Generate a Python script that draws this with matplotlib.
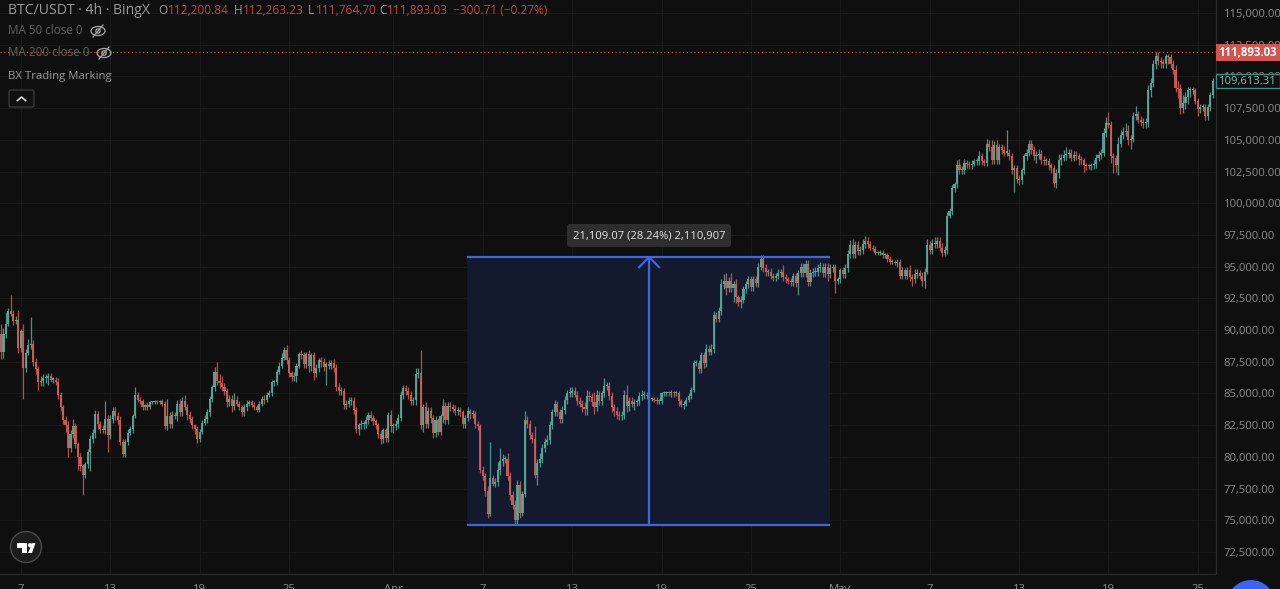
import matplotlib
matplotlib.use('Agg')
import matplotlib.pyplot as plt
from matplotlib.patches import Rectangle, Circle, Ellipse, FancyBboxPatch, Polygon

# closes in thousands of USDT, 4h candles
closes = [
    88.3,89.7,90.5,91.5,91.3,90.7,90.8,88.6,89.9,87.0,
    88.2,88.8,88.9,87.5,86.9,85.9,86.0,86.2,86.2,86.4,
    86.1,86.1,85.9,84.9,83.9,82.9,82.5,80.7,81.8,82.4,
    81.0,80.0,79.3,78.6,79.4,80.4,81.4,81.9,83.4,82.6,
    82.2,82.1,83.0,81.7,83.0,83.6,83.2,82.9,81.2,80.2,
    81.2,81.9,82.2,83.2,84.9,84.5,84.4,83.9,84.1,83.9,
    84.3,84.3,84.4,84.3,84.4,84.2,82.4,83.2,82.6,83.3,
    83.2,84.2,83.5,84.4,83.9,83.3,83.0,82.5,82.2,81.4,
    82.0,82.7,83.0,83.5,84.6,85.5,86.7,86.0,85.8,85.5,
    85.2,84.3,84.6,84.0,84.5,84.2,83.9,83.5,83.9,84.2,
    84.3,84.1,83.9,83.7,84.2,84.6,84.5,84.9,85.0,85.9,
    85.9,86.7,87.2,87.8,88.4,87.6,86.6,86.3,86.4,87.2,
    88.1,88.0,87.3,88.1,87.2,88.0,86.6,87.0,87.6,87.5,
    87.1,87.3,87.2,87.4,87.0,85.5,85.2,85.2,84.1,84.2,
    84.4,84.4,83.7,82.2,82.5,82.6,82.6,82.9,83.3,83.1,
    82.8,82.5,81.8,81.4,82.1,81.5,83.3,82.4,82.4,82.6,
    83.1,84.9,85.4,85.2,84.9,84.4,84.5,86.5,86.6,82.5,
    83.9,82.6,83.6,83.1,81.9,82.9,82.0,83.2,84.0,82.9,
    84.0,83.9,83.8,83.6,83.7,83.5,82.6,83.1,83.6,83.4,83.4,
    82.6,82.4,79.0,78.5,77.3,75.5,78.3,77.9,78.0,79.0,
    79.7,79.8,79.8,78.5,77.0,76.2,75.0,77.8,75.6,77.1,
    82.9,82.6,81.7,81.4,78.6,79.5,79.8,80.7,81.2,81.3,
    82.5,83.5,84.2,83.5,83.0,83.7,84.5,85.0,85.0,85.2,
    84.9,84.4,84.2,83.9,83.8,84.8,84.7,84.3,83.9,84.9,
    84.4,85.0,85.6,85.6,84.8,83.9,83.6,83.3,83.2,83.3,
    84.9,84.0,84.4,84.2,84.3,84.4,84.8,84.9,84.9,84.8,
    84.6,84.6,84.5,84.4,84.4,85.0,85.0,85.1,85.0,85.1,
    85.0,85.0,84.4,84.1,84.2,84.5,84.8,85.3,87.4,87.4,
    86.9,88.0,87.4,88.5,88.3,88.5,91.2,90.9,91.5,93.6,
    93.9,93.3,93.9,93.3,93.6,92.6,92.2,92.4,93.2,93.6,
    94.0,93.4,94.0,93.7,95.0,95.6,94.9,94.6,94.6,94.3,
    94.1,94.3,94.5,94.6,94.2,94.0,93.9,93.8,94.3,93.7,94.5,
    95.0,94.5,95.2,93.8,94.5,94.6,94.6,94.9,95.0,94.5,
    95.0,94.4,94.9,95.0,93.9,94.0,94.7,94.4,94.9,96.0,
    96.7,96.0,96.7,96.2,96.3,96.8,97.0,96.8,96.5,96.4,
    96.1,96.1,96.1,95.9,95.9,95.6,95.4,95.4,95.3,95.4,
    94.3,94.7,94.3,94.7,94.2,94.0,94.4,94.5,94.3,93.9,
    94.6,96.7,96.3,96.9,96.8,97.0,96.5,96.1,96.3,99.0,
    99.4,101.2,101.5,103.0,102.6,102.6,103.2,103.1,103.0,103.1,
    103.3,103.3,103.7,103.3,103.2,104.7,104.4,103.4,104.6,103.4,
    104.4,104.2,104.0,104.0,103.7,102.6,102.8,101.9,101.8,102.6,
    103.7,104.0,104.7,104.2,103.7,103.8,103.9,103.4,103.3,103.3,
    103.0,102.8,101.6,102.4,103.4,103.6,103.8,103.9,104.0,103.6,
    103.8,103.7,103.5,103.4,103.0,102.9,102.9,103.0,103.1,103.6,103.8,
    104.0,105.5,106.3,106.2,103.7,103.6,103.0,104.7,105.4,105.6,
    105.7,105.0,105.1,106.9,107.0,106.6,106.4,106.3,106.4,108.9,
    109.5,111.0,111.6,111.2,111.1,111.0,111.6,111.5,111.0,110.5,
    109.1,109.0,107.5,107.9,108.4,108.9,108.9,108.9,108.1,107.4,
    107.6,107.6,106.9,107.6,108.5,109.6,
]
first_open = 89.7

# wick lengths above/below the body, in hundreds of USDT
up_wick = [
    8,5,9,2,13,3,3,8,2,6, 3,5,21,3,3,3,4,3,3,2, 2,2,2,3,2,2,3,3,3,6,
    3,2,3,1,2,2,3,3,3,2, 2,3,14,3,3,3,3,3,3,2, 2,3,2,2,6,2,2,2,1,2,
    1,1,1,1,1,2,2,14,3,3, 2,3,4,3,5,3,3,2,1,2, 2,2,3,3,2,2,4,8,5,6,
    3,2,3,3,5,3,2,2,3,3, 2,2,2,2,2,2,3,2,3,2, 2,2,3,4,3,4,3,2,3,2,
    2,3,3,2,3,2,3,3,2,3, 3,2,3,2,3,3,3,3,2,3, 3,3,3,2,2,3,2,3,2,3,
    2,2,2,3,2,2,2,4,3,3, 3,3,3,3,3,3,2,5,4,18, 3,4,3,3,2,3,2,2,6,3,
    3,3,3,3,2,2,2,2,3,2,3, 2,2,2,3,2,4,29,3,3,6, 10,4,3,5,3,3,4,4,3,2,
    7,3,3,3,10,3,5,3,3,4, 3,3,3,2,3,3,3,3,5,3, 3,3,3,3,4,5,4,3,8,4,
    3,2,6,3,3,3,3,3,3,3, 4,8,3,3,3,2,3,4,3,2, 2,1,1,2,2,1,2,1,1,2,
    1,2,2,2,2,2,2,2,2,2, 2,3,3,4,3,4,3,2,3,4, 5,6,3,6,3,4,2,3,3,3,
    3,3,3,3,3,3,3,3,2,3, 2,2,3,2,5,2,2,2,2,2,2, 3,3,3,3,3,3,4,3,4,3,
    3,3,3,2,2,2,2,3,3,3, 4,5,3,3,3,4,4,3,2,2, 2,1,2,2,2,2,2,2,1,2,
    2,3,2,3,4,2,4,3,2,3, 3,5,3,3,4,3,3,4,3,3, 2,2,2,4,5,3,3,2,2,3,
    2,3,4,3,2,4,3,6,3,4, 3,3,3,18,3,3,2,2,3,2, 2,3,3,3,3,3,4,3,3,3,
    3,2,2,3,5,3,4,5,3,3, 3,3,3,2,2,2,2,2,3,3,3, 3,4,5,9,3,3,2,5,4,4,
    6,5,3,3,7,3,3,3,3,4, 4,3,3,3,3,3,2,2,3,3, 4,5,4,6,4,3,3,3,2,2,
    2,2,2,2,3,3,
]
down_wick = [
    6,5,3,2,2,3,2,4,3,24, 3,2,3,3,4,6,3,4,4,5, 2,3,2,3,3,3,5,7,3,3,
    3,10,4,16,3,3,15,3,4,4, 3,2,3,13,3,3,3,3,3,2, 2,3,2,3,1,2,2,2,2,2,
    1,1,1,1,1,2,2,3,3,3, 2,4,3,3,2,4,3,3,4,3, 2,2,2,3,3,3,3,3,4,3,
    3,4,3,5,3,2,2,3,3,3, 2,2,2,2,2,2,3,2,2,2, 3,2,2,2,2,3,3,3,3,5,
    2,3,3,3,5,4,5,3,3,4, 3,14,3,3,3,3,3,3,3,3, 3,3,3,3,5,3,4,3,3,3,
    3,3,3,4,3,3,3,4,5,3, 3,3,3,3,3,3,3,4,3,3, 5,3,3,4,4,3,3,3,5,3,
    3,3,3,3,3,3,3,3,3,4,3, 3,3,3,3,4,3,2,2,3,3, 4,4,3,3,4,3,4,3,4,3,
    3,3,3,3,3,8,3,3,3,3, 3,3,3,3,3,3,3,3,3,3, 2,3,3,4,5,5,3,3,5,3,
    3,3,3,3,3,4,4,3,3,3, 3,5,4,3,5,3,3,3,3,2, 2,2,2,2,2,2,2,2,2,3,
    3,2,4,2,3,2,2,2,2,2, 3,3,4,3,3,3,3,3,3,3, 4,5,3,3,11,5,3,5,3,3,
    3,3,3,3,3,3,3,3,3,3, 2,2,3,3,3,3,3,3,3,3,9, 3,3,3,3,3,3,3,3,3,3,
    3,5,3,3,10,3,3,3,3,3, 3,3,3,3,3,3,3,3,2,2, 2,2,2,2,2,2,2,2,2,3,
    3,3,3,3,3,5,3,3,3,4, 6,2,3,3,3,3,3,3,3,3, 2,3,3,3,3,3,3,3,3,3,
    2,3,3,3,3,3,3,3,3,3, 3,3,3,3,3,3,17,3,4,3, 3,3,3,3,3,5,3,3,3,3,
    4,4,3,4,4,4,3,4,3,3, 3,3,5,3,5,3,2,3,3,3,3, 3,3,3,3,5,12,5,8,3,3,
    3,4,7,3,3,3,3,4,4,4, 5,3,4,3,4,3,3,5,3,3, 3,7,5,4,5,6,5,3,3,5,
    3,3,3,3,3,2,
]

price_ticks = [72500, 75000, 77500, 80000, 82500, 85000, 87500, 90000, 92500, 95000,
               97500, 100000, 102500, 105000, 107500, 110000, 112500, 115000]
date_labels = ['7', '13', '19', '25', 'Apr', '7', '13', '19', '25', 'May', '7', '13', '19', '25']
# candle index of each date label (one day = 6 candles)
date_candles = [8, 44, 80, 116, 158, 194, 230, 266, 302, 338, 374, 410, 446, 482]

last_price = 111893.03
other_price = 109613.31
measure_low = 74650
measure_high = 95759
measure_start = 187.7
measure_end = 333.9
measure_mid = 261

BG = '#0f0f0f'
GRID = '#19191a'
UP = '#5aa898'
DOWN = '#cf5f5a'
BLUE = '#3f66e0'
plt.rcParams['font.family'] = ['Open Sans', 'DejaVu Sans']

fig = plt.figure(figsize=(12.8, 5.89), dpi=100, facecolor=BG)
ax = fig.add_axes([0, 15 / 589, 1215.5 / 1280, 574 / 589], facecolor=BG)

# Candles
opens = [first_open] + closes[:-1]
xs = list(range(len(closes)))
for x, o, c, uw, dw in zip(xs, opens, closes, up_wick, down_wick):
    color = UP if c >= o else DOWN
    top = max(o, c) * 1000
    bot = min(o, c) * 1000
    ax.vlines(x, bot - dw * 100, top + uw * 100, color=color, lw=0.9, alpha=0.85, zorder=3)
    ax.bar(x, max(top - bot, 80), bottom=bot, width=0.85, color=color, lw=0, alpha=0.92, zorder=3)

# Price range tool
ax.add_patch(Rectangle((measure_start, measure_low), measure_end - measure_start,
                       measure_high - measure_low, facecolor='#141a2e', edgecolor='none', zorder=1))
ax.hlines([measure_low, measure_high], measure_start, measure_end, color=BLUE, lw=1.6, zorder=4)
ax.vlines(measure_mid, measure_low, measure_high, color=BLUE, lw=1.6, zorder=4)
ax.plot([measure_mid - 4, measure_mid, measure_mid + 4],
        [measure_high - 800, measure_high, measure_high - 800], color=BLUE, lw=1.6, zorder=4)

ax.axhline(last_price, color='#b5524e', lw=0.9, ls=(0, (1, 2)), zorder=2)

ax.set_xlim(-0.4, 489.1)
ax.set_ylim(70764, 116025)
ax.set_xticks(date_candles)
ax.set_xticklabels(date_labels)
ax.set_yticks(price_ticks)
ax.set_yticklabels([f'{p:,.2f}' for p in price_ticks])
ax.yaxis.tick_right()
ax.tick_params(axis='both', length=0, colors='#8d8d8d', labelsize=8.1)
ax.tick_params(axis='y', pad=6)
ax.tick_params(axis='x', pad=7)
ax.grid(True, color=GRID, lw=0.8)
ax.set_axisbelow(True)
for name in ['top', 'left']:
    ax.spines[name].set_visible(False)
for name in ['right', 'bottom']:
    ax.spines[name].set_color('#2a2a2a')
    ax.spines[name].set_linewidth(0.9)

# Price tags on the right scale
tag = ax.get_yaxis_transform()
tag_w = 64.5 / 1215.5
ax.add_patch(Rectangle((1, last_price - 700), tag_w, 1400, transform=tag, facecolor='#d4544f',
                       edgecolor='none', clip_on=False, zorder=5))
ax.text(1 + 32 / 1215.5, last_price, f'{last_price:,.2f}', transform=tag, color='white', ha='center',
        va='center', fontsize=8.3, fontweight='bold', clip_on=False, zorder=6)
ax.add_patch(Rectangle((1, other_price - 560), tag_w, 1120, transform=tag, facecolor=BG,
                       edgecolor='#3f8f80', lw=1, clip_on=False, zorder=5))
ax.text(1 + 32 / 1215.5, other_price, f'{other_price:,.2f}', transform=tag, color='#79c2b1', ha='center',
        va='center', fontsize=8.1, clip_on=False, zorder=6)

# Overlay for the chart's legend and controls, in pixels
ui = fig.add_axes([0, 0, 1, 1], facecolor='none')
ui.set_xlim(0, 1280)
ui.set_ylim(589, 0)
ui.axis('off')

GREY = '#9a9a9a'
DIM = '#626262'
RED = '#b8474b'
ui.text(8, 10, 'BTC/USDT · 4h · BingX', color=GREY, fontsize=10.1, va='center')
for x, s, col in [(158, 'O', GREY), (168, '112,200.84', RED), (234, 'H', GREY), (243, '112,263.23', RED),
                  (308, 'L', GREY), (316, '111,764.70', RED), (379, 'C', GREY), (387, '111,893.03', RED),
                  (453, '−300.71 (−0.27%)', RED)]:
    ui.text(x, 10, s, color=col, fontsize=8.6, va='center')
ui.text(8, 31, 'MA 50 close 0', color=DIM, fontsize=8.4, va='center')
ui.text(8, 53, 'MA 200 close 0', color=DIM, fontsize=8.4, va='center')
ui.text(8, 76, 'BX Trading Marking', color=GREY, fontsize=8.2, va='center')

for cx, cy in [(98, 31), (104, 53)]:
    ui.add_patch(Ellipse((cx, cy), 14, 9, facecolor='none', edgecolor='#a8a8a8', lw=0.9))
    ui.add_patch(Circle((cx, cy), 2.2, facecolor='none', edgecolor='#a8a8a8', lw=0.9))
    ui.plot([cx - 5, cx + 5], [cy + 6, cy - 6], color='#a8a8a8', lw=0.9)

ui.add_patch(FancyBboxPatch((9, 90), 25, 17, boxstyle='round,pad=0,rounding_size=2',
                            facecolor='#101010', edgecolor='#3c3c3c', lw=0.9))
ui.plot([17.5, 21.5, 25.5], [100.5, 97, 100.5], color='#d8d8d8', lw=1.2)

# Label of the range tool
ui.add_patch(FancyBboxPatch((567, 224), 164, 23, boxstyle='round,pad=0,rounding_size=3',
                            facecolor='#2e2e2e', edgecolor='none'))
ui.text(649, 235.5, '21,109.07 (28.24%) 2,110,907', color='#e4e4e4', fontsize=8.1, ha='center', va='center')

# Logo
ui.add_patch(Circle((26, 547), 15.5, facecolor='#1c1c1c', edgecolor='#4a4a4a', lw=1))
ui.add_patch(Polygon([(17, 543), (27, 543), (27, 553), (22, 553), (22, 548), (17, 548)],
                     facecolor='white', edgecolor='none'))
ui.add_patch(Circle((30.2, 545.3), 2.2, facecolor='white', edgecolor='none'))
ui.add_patch(Polygon([(32.5, 543), (35.5, 543), (32, 553), (28, 553)], facecolor='white', edgecolor='none'))

# Blue button cut by the lower edge
ui.add_patch(Circle((1251, 604), 24, facecolor='#3a66f0', edgecolor='none'))

fig.savefig('out.png', dpi=100, facecolor=BG)
print(len(closes), len(up_wick), len(down_wick))
